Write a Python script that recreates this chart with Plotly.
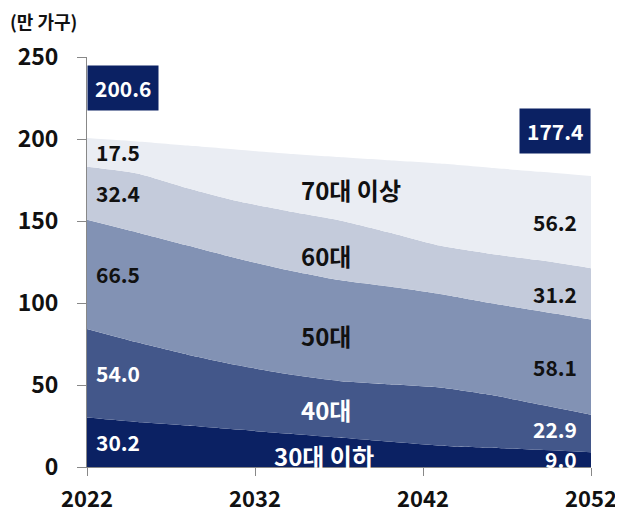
import plotly.graph_objects as go

# 연도 (3년 간격으로 그림에서 읽은 값)
years = [2022, 2025, 2028, 2031, 2034, 2037, 2040, 2043, 2046, 2049, 2052]

# 연령대별 가구 수 (만 가구)
age_30_under = [30.2, 27.5, 25.3, 22.8, 20.3, 18.0, 15.5, 13.0, 11.8, 10.5, 9.0]
age_40s = [54.0, 48.5, 43.2, 39.2, 36.2, 34.5, 35.0, 35.5, 32.2, 27.5, 22.9]
age_50s = [66.5, 67.0, 66.5, 65.0, 63.5, 61.5, 59.5, 57.0, 56.0, 57.0, 58.1]
age_60s = [32.4, 36.0, 35.0, 35.0, 36.0, 36.5, 33.0, 29.5, 30.0, 31.0, 31.2]
age_70_over = [17.5, 19.5, 26.0, 31.5, 35.0, 38.5, 44.0, 50.0, 52.5, 54.0, 56.2]

names = ["30대 이하", "40대", "50대", "60대", "70대 이상"]
series = [age_30_under, age_40s, age_50s, age_60s, age_70_over]
colors = ["#0b2163", "#43578a", "#8292b4", "#c4cbdb", "#eaedf3"]
text_colors = ["white", "white", "#111111", "#111111", "#111111"]

x_ticks = [2022, 2032, 2042, 2052]

FONT = "Noto Sans CJK KR"
navy = "#0b2163"

fig = go.Figure()
for name, vals, col in zip(names, series, colors):
    fig.add_trace(go.Scatter(
        x=years, y=vals, name=name, mode="lines",
        stackgroup="one", line=dict(width=0, color=col, shape="spline", smoothing=0.6),
        fillcolor=col, hoverinfo="skip",
    ))

annotations = []

# 양 끝 값 라벨 (구간 중앙)
cum_l, cum_r = 0, 0
for i, (vals, tc) in enumerate(zip(series, text_colors)):
    mid_l = cum_l + vals[0] / 2
    mid_r = cum_r + vals[-1] / 2
    cum_l += vals[0]
    cum_r += vals[-1]
    ys_r = {0: 1, 1: 4}.get(i, 0)
    annotations.append(dict(x=years[0], y=mid_l, text=f"<b>{vals[0]:.1f}</b>", showarrow=False,
                            xanchor="left", xshift=7, font=dict(size=21, color=tc)))
    annotations.append(dict(x=years[-1], y=mid_r, text=f"<b>{vals[-1]:.1f}</b>", showarrow=False,
                            xanchor="right", xshift=-12, yshift=ys_r, font=dict(size=21, color=tc)))

# 합계 박스
annotations.append(dict(x=years[0], y=231, text=f"<b>{cum_l:.1f}</b>", showarrow=False,
                        xanchor="left", bgcolor=navy, borderpad=7,
                        font=dict(size=21, color="white")))
annotations.append(dict(x=years[-1], y=205, text=f"<b>{cum_r:.1f}</b>", showarrow=False,
                        xanchor="right", bgcolor=navy, borderpad=7,
                        font=dict(size=21, color="white")))

# 연령대 이름
name_pos = [(2033.0, 7), (2034.6, 35), (2034.6, 80), (2034.6, 129), (2034.6, 169)]
for name, (nx, ny), tc in zip(names, name_pos, text_colors):
    annotations.append(dict(x=nx, y=ny, text=f"<b>{name}</b>", showarrow=False,
                            xanchor="left", font=dict(size=24, color=tc)))

# 단위
annotations.append(dict(xref="paper", yref="paper", x=-0.157, y=1.125,
                        text="<b>(만 가구)</b>", showarrow=False, xanchor="left", yanchor="top",
                        font=dict(size=18, color="#111111")))

# 페이지 여백(8px)을 감안한 크기
fig.update_layout(
    width=615, height=508,
    margin=dict(l=79, r=32, t=49, b=49),
    paper_bgcolor="white", plot_bgcolor="white",
    showlegend=False,
    font=dict(family=FONT, color="#111111"),
    annotations=annotations,
)

fig.update_xaxes(range=[2022, 2052], tickvals=x_ticks, ticktext=[str(t) for t in x_ticks],
                 showgrid=False, zeroline=False, showline=True, linecolor="#888888", linewidth=1,
                 ticks="outside", ticklen=8, tickcolor="#888888", ticklabelstandoff=5,
                 automargin=False,
                 tickfont=dict(size=22, color="#111111", family=FONT, weight="bold"))
fig.update_yaxes(range=[0, 250], dtick=50, showgrid=False, zeroline=False,
                 showline=True, linecolor="#888888", linewidth=1,
                 ticks="outside", ticklen=9, tickcolor="#888888", ticklabelstandoff=14,
                 automargin=False,
                 tickfont=dict(size=23, color="#111111", family=FONT, weight="bold"))

fig.write_html("out.html")
